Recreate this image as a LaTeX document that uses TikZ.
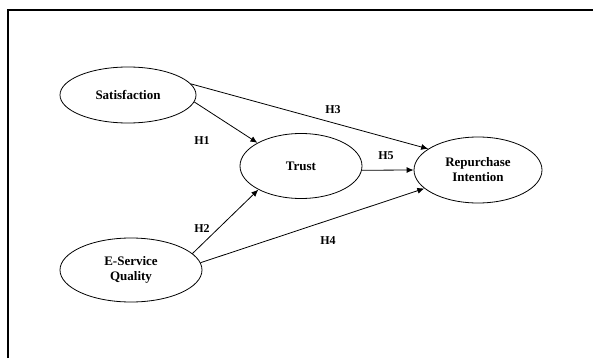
\documentclass[tikz,border=0pt]{standalone}
\usepackage{fontspec}
\setmainfont{Liberation Serif}
\usetikzlibrary{shapes.geometric,arrows.meta}
\begin{document}
\begin{tikzpicture}[x=1pt,y=-1pt,
  construct/.style={draw, thick, ellipse, inner sep=0pt, align=center,
    font=\fontsize{13}{15}\selectfont\bfseries},
  hyp/.style={font=\fontsize{12}{14}\selectfont\bfseries},
  path/.style={-{Latex[length=7pt,width=6pt]}, thick}]
\useasboundingbox (0,0) rectangle (593,358);
\draw[line width=1.5pt] (8,358) -- (8,10) -- (593,10);
% constructs
\node[construct, minimum width=136pt, minimum height=56pt] (sat) at (128,95) {Satisfaction};
\node[construct, minimum width=122pt, minimum height=65pt] (trust) at (301,166) {Trust};
\node[construct, minimum width=128pt, minimum height=66pt] (rep) at (478,170) {Repurchase\\Intention};
\node[construct, minimum width=142pt, minimum height=64pt] (esq) at (131,270) {E-Service\\Quality};
% paths
\draw[path] (sat.-6) -- (trust.152);
\draw[path] (sat.10) -- (rep.157);
\draw[path] (trust.-4) -- (rep.180);
\draw[path] (esq.15) -- (trust.209);
\draw[path] (esq.6) -- (rep.199);
% hypotheses
\node[hyp] (h1) at (202,141) {H1};
\node[hyp] (h2) at (202,229) {H2};
\node[hyp] (h3) at (333,110) {H3};
\node[hyp] (h4) at (328,241) {H4};
\node[hyp] (h5) at (386,156) {H5};
\end{tikzpicture}
\end{document}
